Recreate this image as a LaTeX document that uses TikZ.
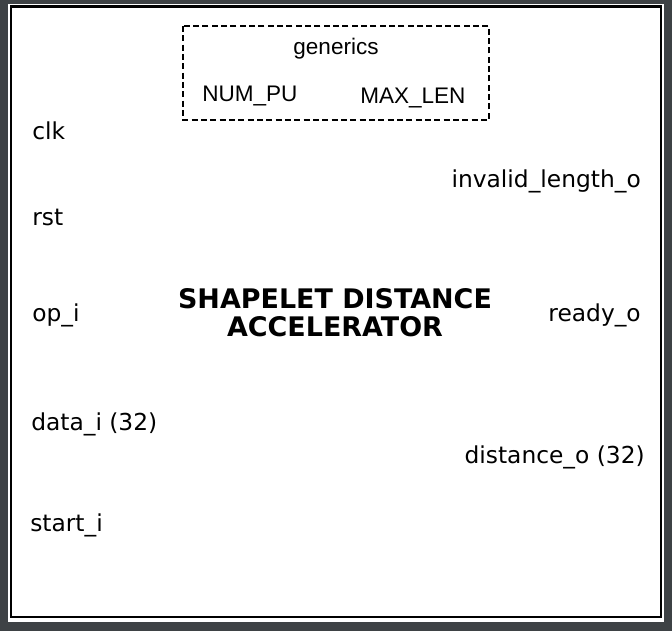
\documentclass[tikz,border=0pt]{standalone}
\usepackage{fontspec}
\setmainfont{DejaVu Sans}
\newfontfamily\arialfont{Liberation Sans}
\usepackage{tikz}
\usetikzlibrary{positioning}
\definecolor{frame}{RGB}{62,66,69}

\begin{document}
\begin{tikzpicture}[
    x=0.75pt, y=-0.75pt,
    port/.style={inner sep=0pt, font=\fontsize{17.5pt}{21pt}\selectfont},
    generic/.style={inner sep=0pt, font=\arialfont\fontsize{16.9pt}{20pt}\selectfont},
    title/.style={inner sep=0pt, align=center, font=\bfseries\fontsize{20.2pt}{21pt}\selectfont}
]
    % Background and block outline
    \fill[frame] (0,0) rectangle (672,631);
    \useasboundingbox (0,0) rectangle (672,631);
    \fill[white] (8,4) rectangle (664,622);
    \draw[line width=1.6pt] (11,6.5) rectangle (661,617);

    % Generics
    \draw[line width=1.4pt, dash pattern=on 4.5pt off 2.5pt] (183,26) rectangle (489,120);
    \node[generic, anchor=base] (gen) at (336,54.5) {generics};
    \node[generic, anchor=base west] (numpu) at (202,102) {NUM\_PU};
    \node[generic, anchor=base west] (maxlen) at (360,104) {MAX\_LEN};

    % Title
    \node[title, anchor=base] (name) at (335,337) {SHAPELET DISTANCE\\ACCELERATOR};

    % Inputs
    \node[port, anchor=base west] (clk) at (32,140) {clk};
    \node[port, anchor=base west] (rst) at (32,226) {rst};
    \node[port, anchor=base west] (op) at (32,322) {op\_i};
    \node[port, anchor=base west] (data) at (31,431) {data\_i (32)};
    \node[port, anchor=base west] (start) at (30,531) {start\_i};

    % Outputs
    \node[port, anchor=base east] (invalid) at (641,188) {invalid\_length\_o};
    \node[port, anchor=base east] (ready) at (641,322) {ready\_o};
    \node[port, anchor=base east] (dist) at (645,463) {distance\_o (32)};
\end{tikzpicture}
\end{document}
